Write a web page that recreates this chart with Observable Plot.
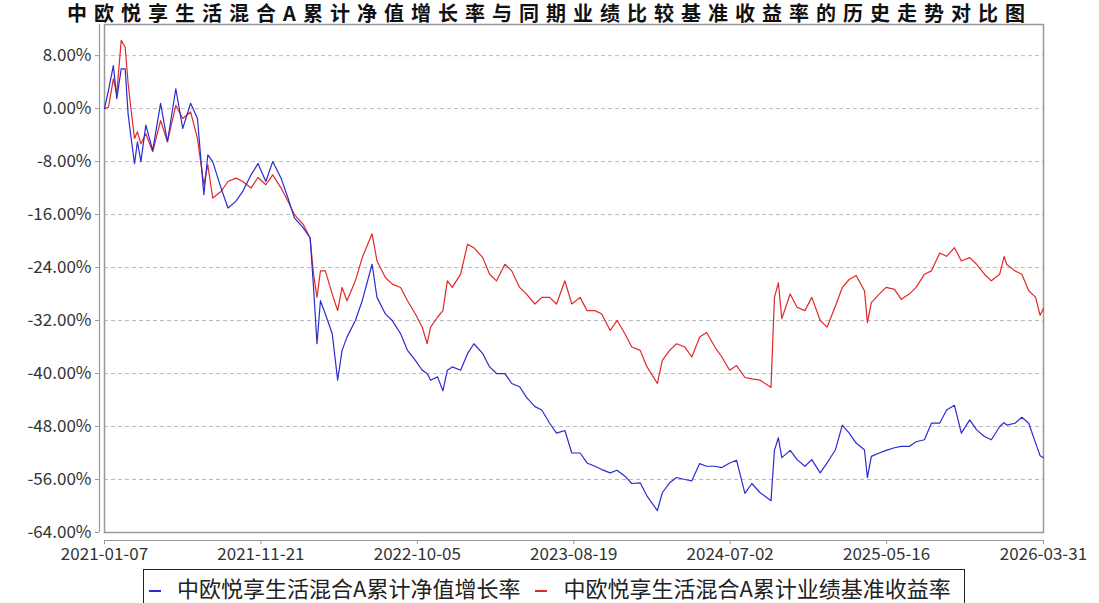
<!DOCTYPE html>
<html><head><meta charset="utf-8">
<script src="https://cdn.jsdelivr.net/npm/d3@7"></script>
<script src="https://cdn.jsdelivr.net/npm/@observablehq/plot@0.6"></script>
<style>
body{margin:0;background:#fff;width:1099px;height:603px;overflow:hidden;position:relative;font-family:"Noto Sans CJK SC","Noto Sans",sans-serif;}
#title{position:absolute;z-index:2;left:0;width:1099px;top:1px;text-align:center;font-size:20px;font-weight:bold;line-height:23px;letter-spacing:7px;white-space:nowrap;color:#111}
#chart{position:absolute;top:0;left:0}
#legend{position:absolute;left:143px;top:569px;width:822px;height:40px;border:1px solid #222;box-sizing:border-box;font-size:22px;line-height:34px;padding-left:5px;color:#222;white-space:nowrap;background:#fff}
.sw{display:inline-block;width:12px;height:1.5px;vertical-align:middle;margin-right:16px}
</style></head>
<body>
<div id="chart"></div>
<div id="title">中欧悦享生活混合A累计净值增长率与同期业绩比较基准收益率的历史走势对比图</div>
<div id="legend"><span class="sw" style="background:#2b2bd0"></span><span>中欧悦享生活混合A累计净值增长率</span><span class="sw" style="background:#e02828;margin-left:15px"></span><span>中欧悦享生活混合A累计业绩基准收益率</span></div>
<script>
const dates = [
"2021-01-07","2021-01-15","2021-01-25","2021-02-01","2021-02-10","2021-02-18","2021-02-24","2021-03-01","2021-03-09","2021-03-15","2021-03-22","2021-04-01","2021-04-15","2021-05-01","2021-05-15","2021-06-01","2021-06-15","2021-07-01","2021-07-15","2021-07-28","2021-08-05","2021-08-15","2021-09-01","2021-09-15","2021-10-01","2021-10-15","2021-11-01","2021-11-15","2021-12-01","2021-12-15",
"2022-01-01","2022-01-15","2022-01-28","2022-02-15","2022-03-01","2022-03-08","2022-03-15","2022-03-22","2022-04-01","2022-04-15","2022-04-26","2022-05-05","2022-05-15","2022-06-01","2022-06-15","2022-07-05","2022-07-15","2022-08-01","2022-08-15","2022-09-01","2022-09-15","2022-10-01","2022-10-15","2022-10-25","2022-11-01","2022-11-15","2022-11-26","2022-12-05","2022-12-15",
"2023-01-01","2023-01-15","2023-01-28","2023-02-15","2023-03-01","2023-03-15","2023-04-01","2023-04-15","2023-05-01","2023-05-15","2023-06-01","2023-06-15","2023-07-01","2023-07-15","2023-08-01","2023-08-15","2023-09-01","2023-09-15","2023-10-01","2023-10-15","2023-11-01","2023-11-15","2023-12-01","2023-12-15",
"2024-01-01","2024-01-15","2024-02-05","2024-02-15","2024-03-01","2024-03-15","2024-04-01","2024-04-15","2024-05-01","2024-05-15","2024-06-01","2024-06-15","2024-07-01","2024-07-15","2024-08-01","2024-08-15","2024-09-01","2024-09-23","2024-09-30","2024-10-08","2024-10-15","2024-11-01","2024-11-15","2024-12-01","2024-12-15",
"2025-01-01","2025-01-15","2025-02-01","2025-02-15","2025-03-01","2025-03-15","2025-04-01","2025-04-07","2025-04-15","2025-05-01","2025-05-15","2025-06-01","2025-06-15","2025-07-01","2025-07-15","2025-08-01","2025-08-15","2025-09-01","2025-09-15","2025-10-01","2025-10-15","2025-11-01","2025-11-15","2025-12-01","2025-12-15",
"2026-01-01","2026-01-10","2026-01-15","2026-02-01","2026-02-15","2026-03-01","2026-03-15","2026-03-24","2026-03-31"
];
// 累计净值增长率 (%)
const fundGrowth = [
0,2.7,6.5,1.5,6.0,6.0,-0.8,-3.8,-8.3,-5.0,-8.0,-2.5,-6.3,0.8,-5.0,3.0,-3.0,0.8,-1.5,-13.0,-7.0,-8.0,-12.0,-15.0,-14.0,-12.5,-10.0,-8.3,-11.0,-8.0,
-10.5,-13.5,-16.5,-18.0,-19.5,-27.0,-35.5,-29.0,-31.0,-34.0,-41.0,-36.5,-34.5,-32.0,-29.0,-23.5,-28.5,-31.0,-32.0,-34.0,-36.5,-38.0,-39.5,-40.0,-41.0,-40.5,-42.6,-39.5,-39.0,
-39.5,-37.0,-35.5,-37.0,-39.0,-40.0,-40.0,-41.5,-42.0,-43.6,-45.0,-45.5,-47.5,-49.0,-48.6,-52.0,-52.0,-53.5,-54.0,-54.5,-55.0,-54.6,-55.5,-56.6,
-56.5,-58.5,-60.7,-58.0,-56.5,-55.7,-56.0,-56.2,-53.6,-54.0,-54.0,-54.2,-53.5,-53.1,-58.1,-56.6,-58.0,-59.2,-51.6,-49.7,-52.7,-51.6,-53.0,-54.0,-53.0,
-55.0,-53.5,-51.5,-47.8,-49.0,-50.5,-51.5,-55.7,-52.5,-52.0,-51.6,-51.2,-51.0,-51.0,-50.3,-50.0,-47.5,-47.5,-45.5,-44.8,-49.0,-47.0,-48.5,-49.5,-50.0,
-48.0,-47.4,-47.8,-47.5,-46.6,-47.5,-50.5,-52.4,-52.7
];
// 累计业绩基准收益率 (%)
const benchReturn = [
0,0.2,4.5,2.3,10.3,9.3,3.8,0.5,-4.5,-3.5,-5.3,-3.8,-6.5,-1.8,-5.0,0.5,-1.5,-0.5,-4.5,-11.5,-8.5,-13.5,-12.5,-11.0,-10.5,-11.0,-12.0,-10.4,-11.5,-10.0,
-12.0,-14.0,-16.0,-17.5,-19.5,-25.0,-28.5,-24.5,-24.5,-28.0,-30.5,-27.0,-29.0,-26.0,-22.5,-18.9,-23.0,-25.5,-26.5,-27.0,-29.0,-31.0,-33.0,-35.5,-33.0,-31.5,-30.5,-26.0,-27.0,
-25.0,-20.5,-21.0,-22.5,-25.0,-26.0,-23.5,-24.5,-27.0,-28.0,-29.5,-28.5,-28.5,-29.5,-26.0,-29.5,-28.5,-30.5,-30.5,-31.0,-33.5,-32.0,-34.0,-36.0,
-36.5,-39.0,-41.5,-38.0,-36.5,-35.5,-36.0,-37.5,-34.5,-33.8,-36.0,-37.5,-39.5,-38.8,-40.6,-40.8,-41.0,-42.1,-28.5,-26.3,-31.7,-28.0,-30.0,-30.5,-28.5,
-32.0,-33.0,-29.8,-27.0,-25.8,-25.2,-27.5,-32.3,-29.3,-28.0,-27.0,-27.3,-28.8,-28.0,-27.0,-25.0,-24.5,-21.8,-22.3,-21.0,-23.0,-22.5,-23.5,-25.0,-26.0,
-25.0,-22.3,-23.5,-24.5,-25.0,-27.5,-28.5,-31.2,-30.2
];
const yTicks = [8,0,-8,-16,-24,-32,-40,-48,-56,-64];
const xTickLabels = ["2021-01-07","2021-11-21","2022-10-05","2023-08-19","2024-07-02","2025-05-16","2026-03-31"];

const parse = d3.utcParse("%Y-%m-%d");
const rows = dates.map((d,i)=>({date: parse(d), fund: fundGrowth[i], bench: benchReturn[i]}));
const xTicks = xTickLabels.map(parse);
const xDomain = [xTicks[0], xTicks[xTicks.length-1]];

const chart = Plot.plot({
  width: 1099, height: 566,
  marginLeft: 104, marginRight: 56, marginTop: 24, marginBottom: 34,
  x: {type: "utc", domain: xDomain},
  y: {domain: [-64, 12.7]},
  style: {fontFamily: "'Noto Sans CJK SC','Noto Sans',sans-serif", fontSize: "17px", color: "#333", background: "white"},
  marks: [
    Plot.gridY(yTicks, {stroke: "#bbb", strokeOpacity: 1, strokeDasharray: "4,3"}),
    Plot.frame({stroke: "#999", strokeWidth: 1.5}),
    Plot.ruleX([xDomain[0]], {dx: -5, stroke: "#999", strokeWidth: 1.2}),
    Plot.ruleY([-64], {dy: 8, stroke: "#999", strokeWidth: 1.2}),
    Plot.axisY(yTicks, {tickFormat: d => d.toFixed(2) + "%", tickSize: 4, tickPadding: 4, dx: -5, stroke: "#999", fill: "#333"}),
    Plot.axisX(xTicks, {tickFormat: d3.utcFormat("%Y-%m-%d"), tickSize: 4, tickPadding: 3, dy: 8, stroke: "#999", fill: "#333"}),
    Plot.lineY(rows, {x: "date", y: "bench", stroke: "#e02828", strokeWidth: 1.2}),
    Plot.lineY(rows, {x: "date", y: "fund", stroke: "#2b2bd0", strokeWidth: 1.2})
  ]
});
document.getElementById("chart").appendChild(chart);
</script>
</body></html>
